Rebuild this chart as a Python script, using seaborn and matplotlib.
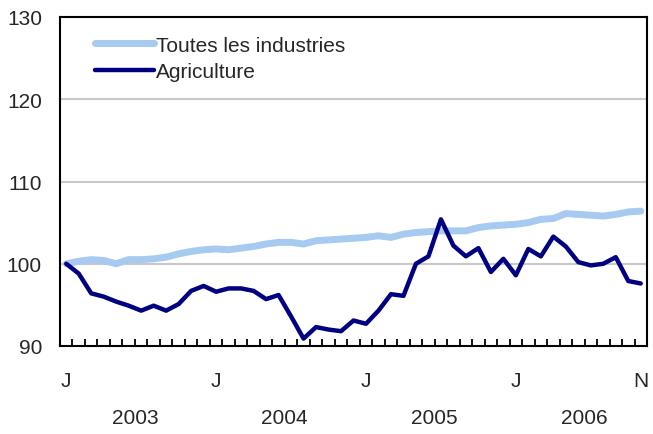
import pandas as pd
import numpy as np
import matplotlib
matplotlib.use("Agg")
import matplotlib.pyplot as plt
from matplotlib.lines import Line2D
import seaborn as sns

# Monthly index, Jan 2003 - Nov 2006
toutes = [100.0, 100.3, 100.5, 100.4, 100.0, 100.5, 100.5, 100.6, 100.8, 101.2,
          101.5, 101.7, 101.8, 101.7, 101.9, 102.1, 102.4, 102.6, 102.6, 102.4,
          102.8, 102.9, 103.0, 103.1, 103.2, 103.4, 103.2, 103.6, 103.8, 103.9,
          104.0, 104.0, 104.0, 104.4, 104.6, 104.7, 104.8, 105.0, 105.4, 105.5,
          106.1, 106.0, 105.9, 105.8, 106.0, 106.3, 106.4]
agriculture = [100.0, 98.8, 96.4, 96.0, 95.4, 94.9, 94.3, 94.9, 94.3, 95.1,
               96.7, 97.3, 96.6, 97.0, 97.0, 96.7, 95.7, 96.2, 93.6, 90.9,
               92.3, 92.0, 91.8, 93.1, 92.7, 94.3, 96.3, 96.1, 100.0, 100.9,
               105.4, 102.2, 100.9, 101.9, 99.0, 100.6, 98.6, 101.8, 100.9, 103.3,
               102.1, 100.2, 99.8, 100.0, 100.8, 97.9, 97.6]
month_labels = ["J", "J", "J", "J", "N"]
years = ["2003", "2004", "2005", "2006"]

n = len(toutes)
df = pd.DataFrame({
    "mois": list(range(n)) * 2,
    "valeur": toutes + agriculture,
    "serie": ["Toutes les industries"] * n + ["Agriculture"] * n,
})

sns.set_style("white")
plt.rcParams['font.family'] = ['Liberation Sans', 'DejaVu Sans']
fs = 15

fig = plt.figure(figsize=(6.53, 4.35), dpi=100)
ax = fig.add_axes([60 / 653, 1 - 347 / 435, 587 / 653, 329 / 435])

for y in [100, 110, 120]:
    ax.axhline(y, color="#c8c8c8", lw=1.5, zorder=0)

sns.lineplot(data=df, x="mois", y="valeur", hue="serie",
             palette={"Toutes les industries": "#a6caf0", "Agriculture": "#000080"},
             ax=ax, legend=False)
for line, lw in zip(ax.lines[-2:], [5, 3.2]):
    line.set_linewidth(lw)
    line.set_solid_capstyle("round")
    line.set_solid_joinstyle("round")

ax.set_xlim(-0.5, n - 0.5)
ax.set_ylim(90, 130)
ax.set_yticks([90, 100, 110, 120, 130])
ax.tick_params(axis="y", length=0, labelsize=fs, pad=13)

ax.set_xticks([0, 12, 24, 36, 46])
ax.set_xticklabels(month_labels)
ax.set_xticks(np.arange(-0.5, n, 1), minor=True)
ax.tick_params(axis="x", which="major", length=0, labelsize=fs, pad=18)
ax.tick_params(axis="x", which="minor", direction="in", length=5, width=1.3,
               color="black", bottom=True)
for i, yr in enumerate(years):
    ax.text(5.5 + 12 * i, -0.216, yr, transform=ax.get_xaxis_transform(),
            ha="center", va="center", fontsize=fs)

ax.set_xlabel("")
ax.set_ylabel("")
for s in ax.spines.values():
    s.set_color("black")
    s.set_linewidth(1.5)

handles = [Line2D([], [], color="#a6caf0", lw=5, solid_capstyle="round"),
           Line2D([], [], color="#000080", lw=3.2, solid_capstyle="round")]
ax.legend(handles, ["Toutes les industries", "Agriculture"], loc="upper left",
          bbox_to_anchor=(0.028, 1.0), frameon=False, fontsize=fs,
          handlelength=2.8, handletextpad=0.1, labelspacing=0.35)

plt.savefig("out.png", dpi=100)
plt.close()
